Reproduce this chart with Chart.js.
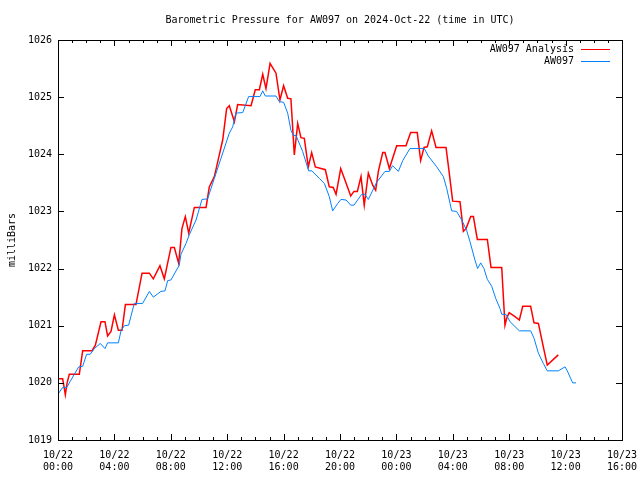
<!DOCTYPE html>
<html>
<head>
<meta charset="utf-8">
<script src="https://cdn.jsdelivr.net/npm/chart.js@4/dist/chart.umd.min.js"></script>
<style>
  body { margin: 0; background: #fff; }
</style>
</head>
<body>
<canvas id="pressureChart" width="640" height="480"></canvas>
<script>
// Barometric pressure, AW097, hours since 2024-10-22 00:00 UTC

const stationHours = [0.05, 0.33, 0.62, 0.92, 1.16, 1.47, 1.75, 2.03, 2.29, 2.58, 3.0, 3.33, 3.52, 4.28, 4.47, 4.7, 5.01, 5.41, 6.0, 6.48, 6.76, 7.3, 7.59, 7.78, 8.01, 8.6, 8.72, 9.08, 9.31, 9.79, 10.21, 10.61, 11.09, 11.56, 12.15, 12.39, 12.62, 13.1, 13.52, 14.33, 14.52, 14.7, 15.46, 15.7, 16.0, 16.29, 16.52, 16.69, 16.88, 17.35, 17.78, 18.01, 18.53, 18.89, 19.24, 19.48, 19.84, 20.07, 20.43, 20.76, 20.99, 21.54, 21.77, 22.01, 22.6, 23.19, 23.5, 23.73, 24.14, 24.45, 24.96, 25.98, 26.26, 26.86, 27.33, 27.57, 27.92, 28.27, 28.63, 28.98, 29.22, 29.57, 29.76, 29.98, 30.21, 30.45, 30.76, 31.04, 31.35, 31.47, 31.77, 32.06, 32.72, 33.52, 33.76, 34.07, 34.42, 34.7, 35.48, 35.96, 36.12, 36.5, 36.74];
const stationValues = [1019.82, 1019.92, 1019.92, 1020.05, 1020.15, 1020.28, 1020.29, 1020.50, 1020.50, 1020.60, 1020.69, 1020.60, 1020.70, 1020.70, 1020.91, 1021.00, 1021.01, 1021.39, 1021.39, 1021.60, 1021.50, 1021.60, 1021.61, 1021.79, 1021.80, 1022.06, 1022.25, 1022.44, 1022.59, 1022.85, 1023.21, 1023.22, 1023.58, 1023.93, 1024.37, 1024.48, 1024.72, 1024.73, 1025.01, 1025.01, 1025.11, 1025.02, 1025.02, 1024.92, 1024.91, 1024.72, 1024.42, 1024.33, 1024.33, 1024.05, 1023.71, 1023.71, 1023.58, 1023.49, 1023.26, 1023.01, 1023.14, 1023.21, 1023.20, 1023.11, 1023.11, 1023.30, 1023.30, 1023.21, 1023.51, 1023.70, 1023.70, 1023.80, 1023.70, 1023.89, 1024.10, 1024.10, 1023.97, 1023.78, 1023.61, 1023.40, 1023.01, 1023.00, 1022.85, 1022.67, 1022.47, 1022.15, 1022.00, 1022.10, 1022.00, 1021.81, 1021.69, 1021.48, 1021.30, 1021.20, 1021.20, 1021.07, 1020.91, 1020.91, 1020.78, 1020.52, 1020.34, 1020.21, 1020.21, 1020.28, 1020.21, 1020.00, 1020.00];

const analysisHours = [0.05, 0.33, 0.43, 0.52, 0.64, 0.8, 1.51, 1.75, 2.41, 2.65, 3.05, 3.33, 3.52, 3.76, 4.0, 4.28, 4.54, 4.78, 5.53, 5.96, 6.48, 6.76, 7.23, 7.54, 8.01, 8.25, 8.56, 8.79, 9.03, 9.27, 9.67, 10.5, 10.73, 11.09, 11.44, 11.68, 11.96, 12.15, 12.51, 12.74, 13.69, 13.99, 14.28, 14.52, 14.75, 15.04, 15.46, 15.74, 16.0, 16.29, 16.52, 16.76, 17.0, 17.23, 17.47, 17.75, 17.99, 18.25, 18.96, 19.24, 19.52, 19.72, 20.05, 20.35, 20.76, 20.99, 21.23, 21.49, 21.72, 22.01, 22.32, 22.53, 22.72, 23.03, 23.19, 23.5, 24.02, 24.68, 25.01, 25.48, 25.72, 25.96, 26.19, 26.5, 26.81, 27.52, 27.75, 27.99, 28.51, 28.75, 28.94, 29.27, 29.46, 29.74, 30.45, 30.71, 31.47, 31.7, 31.82, 32.0, 32.41, 32.72, 32.96, 33.52, 33.76, 34.07, 34.42, 34.7, 35.48];
const analysisValues = [1020.07, 1020.07, 1019.93, 1019.79, 1019.99, 1020.15, 1020.15, 1020.56, 1020.56, 1020.66, 1021.07, 1021.07, 1020.82, 1020.90, 1021.19, 1020.92, 1020.92, 1021.37, 1021.37, 1021.92, 1021.92, 1021.82, 1022.05, 1021.82, 1022.37, 1022.37, 1022.09, 1022.70, 1022.91, 1022.62, 1023.07, 1023.07, 1023.43, 1023.61, 1023.99, 1024.25, 1024.80, 1024.85, 1024.57, 1024.87, 1024.85, 1025.13, 1025.13, 1025.40, 1025.15, 1025.59, 1025.42, 1024.95, 1025.20, 1024.98, 1024.97, 1023.99, 1024.54, 1024.29, 1024.28, 1023.78, 1024.03, 1023.78, 1023.73, 1023.43, 1023.42, 1023.30, 1023.75, 1023.55, 1023.27, 1023.35, 1023.35, 1023.61, 1023.11, 1023.67, 1023.46, 1023.37, 1023.70, 1024.03, 1024.03, 1023.75, 1024.15, 1024.15, 1024.38, 1024.38, 1023.89, 1024.12, 1024.13, 1024.41, 1024.12, 1024.12, 1023.67, 1023.18, 1023.17, 1022.65, 1022.70, 1022.91, 1022.91, 1022.51, 1022.51, 1022.02, 1022.02, 1021.01, 1021.13, 1021.23, 1021.16, 1021.10, 1021.34, 1021.34, 1021.05, 1021.04, 1020.63, 1020.31, 1020.49];

const tickDays = ['10/22', '10/23'];
const seriesNames = ['AW097 Analysis', 'AW097'];
const seriesColors = ['#ff0000', '#0080ff'];

const FONT = 'DejaVu Sans Mono';
const FONT_SIZE = 10;

function toPoints(hours, values) {
    return hours.map((h, i) => ({ x: h, y: values[i] }));
}

function hourLabel(h) {
    const day = tickDays[Math.floor(h / 24)];
    const hh = String(h % 24).padStart(2, '0');
    return [day, hh + ':00'];
}

// frame, inward ticks, title, y label and legend, drawn like the original plot
const framePlugin = {
    id: 'frame',
    afterDraw(chart) {
        const ctx = chart.ctx;
        const a = chart.chartArea;
        const xs = chart.scales.x;
        const ys = chart.scales.y;
        ctx.save();
        ctx.strokeStyle = '#000';
        ctx.lineWidth = 1;
        ctx.strokeRect(Math.round(a.left) + 0.5, Math.round(a.top) + 0.5,
            Math.round(a.right - a.left), Math.round(a.bottom - a.top));

        ctx.beginPath();
        for (let h = 0; h <= 40; h++) {
            const px = Math.round(xs.getPixelForValue(h)) + 0.5;
            const len = h % 4 === 0 ? 6 : 3;
            ctx.moveTo(px, a.bottom);
            ctx.lineTo(px, a.bottom - len);
            ctx.moveTo(px, a.top);
            ctx.lineTo(px, a.top + len);
        }
        for (let v = 1019; v <= 1026; v++) {
            const py = Math.round(ys.getPixelForValue(v)) + 0.5;
            ctx.moveTo(a.left, py);
            ctx.lineTo(a.left + 6, py);
            ctx.moveTo(a.right, py);
            ctx.lineTo(a.right - 6, py);
        }
        ctx.stroke();

        ctx.fillStyle = '#000';
        ctx.font = FONT_SIZE + 'px "' + FONT + '"';
        ctx.textBaseline = 'middle';
        ctx.textAlign = 'center';
        ctx.fillText('Barometric Pressure for AW097 on 2024-Oct-22 (time in UTC)', (a.left + a.right) / 2, 20);

        ctx.save();
        ctx.translate(12, 240);
        ctx.rotate(-Math.PI / 2);
        ctx.fillText('milliBars', 0, 0);
        ctx.restore();

        // legend, top right inside the plot
        ctx.textAlign = 'right';
        seriesNames.forEach((name, i) => {
            const y = 49 + i * 12;
            ctx.fillText(name, 574, y);
            ctx.strokeStyle = seriesColors[i];
            ctx.beginPath();
            ctx.moveTo(581, y + 0.5);
            ctx.lineTo(610, y + 0.5);
            ctx.stroke();
        });
        ctx.restore();
    }
};

const ctx = document.getElementById('pressureChart').getContext('2d');
new Chart(ctx, {
    type: 'line',
    data: {
        datasets: [
            {
                label: seriesNames[1],
                data: toPoints(stationHours, stationValues),
                borderColor: seriesColors[1],
                borderWidth: 1,
                pointRadius: 0,
                tension: 0
            },
            {
                label: seriesNames[0],
                data: toPoints(analysisHours, analysisValues),
                borderColor: seriesColors[0],
                borderWidth: 1.5,
                pointRadius: 0,
                tension: 0
            }
        ]
    },
    options: {
        responsive: false,
        animation: false,
        devicePixelRatio: 1,
        layout: { padding: { top: 40, right: 18, left: 0, bottom: 0 } },
        plugins: {
            legend: { display: false },
            tooltip: { enabled: false },
            title: { display: false }
        },
        scales: {
            x: {
                type: 'linear',
                min: 0,
                max: 40,
                grid: { display: false, drawTicks: false },
                border: { display: false },
                ticks: {
                    stepSize: 4,
                    autoSkip: false,
                    maxRotation: 0,
                    padding: 9,
                    color: '#000',
                    font: { family: FONT, size: FONT_SIZE, lineHeight: '12px' },
                    callback: v => hourLabel(v)
                },
                afterFit: scale => {
                    scale.height = 40;
                    scale.paddingLeft = 0;
                    scale.paddingRight = 0;
                }
            },
            y: {
                min: 1019,
                max: 1026,
                grid: { display: false, drawTicks: false },
                border: { display: false },
                ticks: {
                    stepSize: 1,
                    padding: 6,
                    color: '#000',
                    font: { family: FONT, size: FONT_SIZE },
                    callback: v => String(v)
                },
                afterFit: scale => { scale.width = 58; }
            }
        }
    },
    plugins: [framePlugin]
});
</script>
</body>
</html>
